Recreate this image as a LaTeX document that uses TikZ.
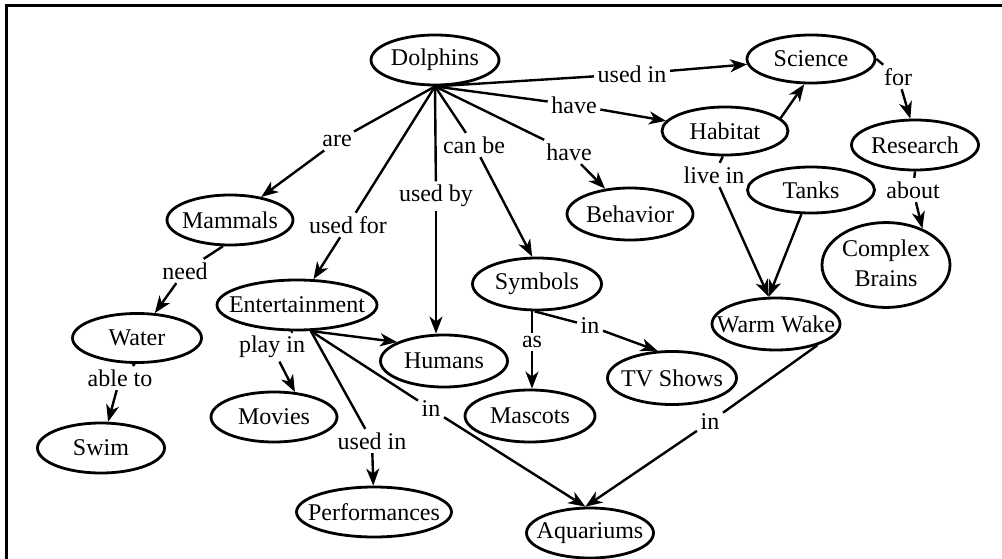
\documentclass[tikz,border=0pt]{standalone}
\usepackage{fontspec}
\setmainfont{Liberation Serif}
\usetikzlibrary{shapes.geometric,arrows.meta,calc}
\newcommand{\ctr}[1]{\makebox[0pt]{#1}}
\tikzset{
  concept/.style={draw, ellipse, line width=2.8pt, inner sep=0pt, minimum width=127pt, minimum height=50pt},
  lbl/.style={inner sep=3.5pt},
  link/.style={line width=2.4pt},
  arr/.style={line width=2.4pt, -{Stealth[length=17pt,width=13pt,inset=5pt]}},
}
\begin{document}
\begin{tikzpicture}[x=1pt,y=-1pt,font=\fontsize{24}{30}\selectfont]
\useasboundingbox (0,0) rectangle (1002,559);
% frame
\draw[line width=3pt] (1002,5.5) -- (6.5,5.5) -- (6.5,559);
% concepts
\node[concept, minimum width=128pt] (dol) at (435,60) {\ctr{Dolphins}};
\node[concept, minimum width=128pt, minimum height=48pt] (sci) at (811,59) {\ctr{Science}};
\node[concept, minimum width=126pt, minimum height=48pt] (hab) at (725,131) {\ctr{Habitat}};
\node[concept] (res) at (915,145) {\ctr{Research}};
\node[concept, minimum height=46pt] (tanks) at (811,190) {\ctr{Tanks}};
\node[concept, minimum width=126pt, minimum height=52pt] (beh) at (630,214) {\ctr{Behavior}};
\node[concept, minimum width=128pt, minimum height=75pt] (cb) at (886,265) {\ctr{\begin{tabular}{@{}c@{}}Complex\\Brains\end{tabular}}};
\node[concept, minimum width=126pt] (mam) at (230,220) {\ctr{Mammals}};
\node[concept, minimum width=129pt, minimum height=52pt] (sym) at (537,284) {\ctr{Symbols}};
\node[concept, minimum width=160pt] (ent) at (297,305) {\ctr{Entertainment}};
\node[concept, minimum width=129pt, minimum height=49pt] (wat) at (137,338) {\ctr{Water}};
\node[concept, minimum height=52pt] (hum) at (444,361) {\ctr{Humans}};
\node[concept, minimum width=126pt] (mov) at (274,417) {\ctr{Movies}};
\node[concept] (swim) at (101,448) {\ctr{Swim}};
\node[concept, minimum width=155pt] (perf) at (374,512) {\ctr{Performances}};
\node[concept, minimum width=129pt, minimum height=53pt] (tv) at (672,378) {\ctr{TV Shows}};
\node[concept, minimum width=130pt, minimum height=52pt] (masc) at (530,416) {\ctr{Mascots}};
\node[concept, minimum width=128pt, minimum height=52pt] (ww) at (776,324) {\ctr{Warm Wake}};
\node[concept] (aq) at (590,533) {\ctr{Aquariums}};
% link labels
\node[lbl] (are) at (337,141) {are};
\node[lbl] (usedfor) at (348,225) {used for};
\node[lbl] (usedby) at (436,196) {used by};
\node[lbl] (canbe) at (474,145) {can be};
\node[lbl] (have2) at (569,152) {have};
\node[lbl] (have1) at (574,105) {have};
\node[lbl] (usedin1) at (632,74) {used in};
\node[lbl] (for) at (898,77) {for};
\node[lbl] (about) at (913,190) {about};
\node[lbl] (livein) at (714,175) {live in};
\node[lbl] (need) at (185,271) {need};
\node[lbl] (ableto) at (120,378) {able to};
\node[lbl] (playin) at (272,347) {play in};
\node[lbl] (usedin2) at (372,441) {used in};
\node[lbl] (in1) at (431,409) {in};
\node[lbl] (as) at (532,342) {as};
\node[lbl] (in2) at (590,326) {in};
\node[lbl] (in3) at (710,422) {in};
% anchor points
\coordinate (dp) at (dol.south);
\coordinate (ep) at (ent.-62);
% connectors
\draw[link] (dp) -- (are);      \draw[arr] (are) -- (mam);
\draw[link] (dp) -- (usedfor);  \draw[arr] (usedfor) -- (ent);
\draw[link] (dp) -- (usedby);   \draw[arr] (usedby) -- (usedby |- hum.north);
\draw[link] (dp) -- (canbe);    \draw[arr] (canbe) -- (sym.100);
\draw[link] (dp) -- (have2);    \draw[arr] (have2) -- (beh);
\draw[link] (dp) -- (have1);    \draw[arr] (have1) -- (hab);
\draw[link] (dp) -- (usedin1);  \draw[arr] (usedin1) -- (sci);
\draw[arr] (hab.13) -- (sci.-105);
\draw[link] (sci.east) -- (for); \draw[arr] (for) -- (res.100);
\draw[link] (res.south) -- (about); \draw[arr] (about) -- (cb.45);
\draw[link] (hab.-95) -- (livein); \draw[arr] (livein) -- (ww.105);
\draw[arr] (tanks) -- (ww.105);
\draw[link] (mam.-105) -- (need); \draw[arr] (need) -- (wat);
\draw[link] (wat.-95) -- (ableto); \draw[arr] (ableto) -- (swim);
\draw[link] (ent.-100) -- (playin); \draw[arr] (playin) -- (mov.50);
\draw[link] (ep) -- (usedin2);  \draw[arr] (usedin2) -- (perf);
\draw[arr] (ep) -- (hum.158);
\draw[link] (ep) -- (in1);      \draw[arr] (in1) -- (aq.100);
\draw[link] (sym.south -| as) -- (as); \draw[arr] (as) -- (as |- masc.north);
\draw[link] (sym.-95) -- (in2); \draw[arr] (in2) -- (tv.118);
\draw[link] (ww.-27) -- (in3);  \draw[arr] (in3) -- (aq.100);
\end{tikzpicture}
\end{document}
